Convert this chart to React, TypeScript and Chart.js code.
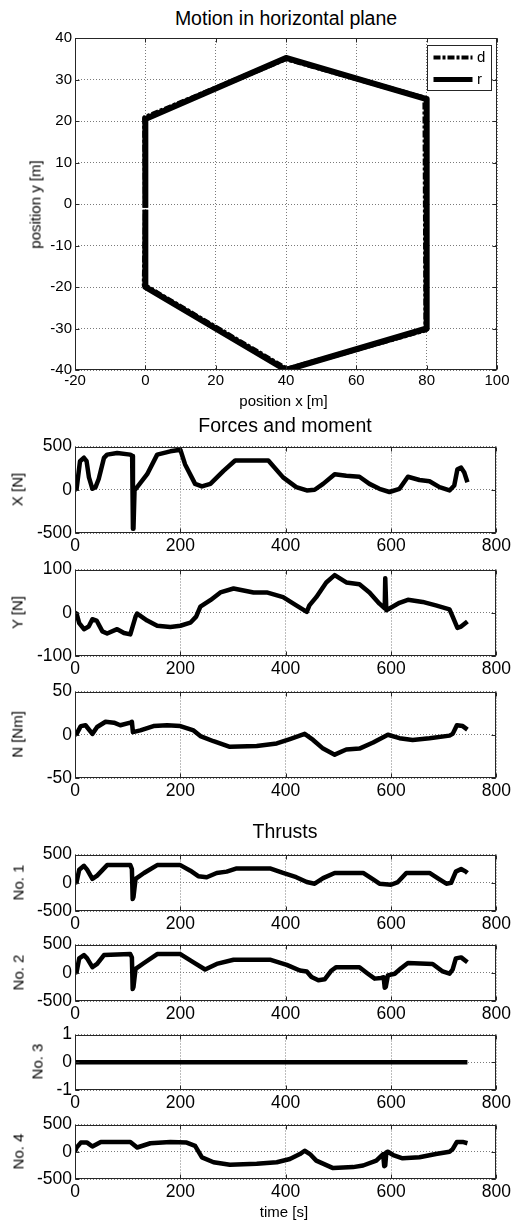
import React, { useEffect, useRef } from "react";
import { Chart, registerables } from "chart.js";
Chart.register(...registerables);

const FONT = "'Liberation Sans', Arial, Helvetica, sans-serif";

// ---------------- data ----------------
// Motion in horizontal plane (position x / y in m)
const hexDesiredX = [0, -0.2, 40, 79.5, 79.8, 40.3, -0.3, 0];
const hexDesiredY = [-0.9, 20.8, 35, 25.5, -30.3, -39.8, -19.6, -1.4];
const hexRealX = [0, 0, 40, 80, 80, 40, 0, 0];
const hexRealY = [-0.9, 20.5, 35.2, 25.3, -30, -40, -20, -1.4];

// Forces and moment (time in s)
const forceXTime = [0, 3, 9.5, 17, 22, 26.5, 33, 39, 45, 55, 61, 80, 105, 108.5, 110, 111, 113, 118, 137, 156, 181, 200, 209, 228, 241, 257, 282, 304, 367, 395, 420, 440, 455, 471, 493, 515, 540, 559, 578, 597, 616, 632, 654, 673, 692, 711, 720, 726, 733, 739, 745];
const forceXValues = [0, 10, 330, 370, 330, 143, 11, 30, 124, 368, 406, 425, 406, 390, -450, -450, -8, 30, 180, 406, 444, 462, 293, 68, 38, 68, 218, 338, 338, 143, 30, -8, 0, 68, 180, 162, 150, 68, 11, -26, 11, 150, 113, 98, 30, -8, 49, 237, 256, 199, 86];

const forceYTime = [0, 3, 8, 17, 26, 33, 41, 52, 61, 80, 93, 105, 115, 118, 137, 156, 181, 200, 219, 230, 238, 257, 276, 301, 339, 364, 395, 420, 440, 445, 458, 477, 493, 515, 540, 559, 578, 588, 589, 590, 591, 597, 616, 632, 660, 685, 711, 717, 726, 733, 745];
const forceYValues = [0, -2, -24, -38, -32, -15, -18, -43, -48, -38, -47, -50, -9, -2, -18, -30, -33, -30, -23, -9, 14, 29, 47, 56, 47, 47, 36, 17, 2, 17, 36, 70, 87, 70, 66, 47, 21, 10, 80, 80, 6, 10, 23, 30, 25, 17, 8, -9, -35, -32, -20];

const momentNTime = [0, 3, 11, 20, 33, 42, 58, 74, 86, 105, 108, 110, 124, 149, 175, 200, 225, 238, 263, 294, 345, 383, 408, 436, 452, 471, 493, 515, 540, 566, 594, 616, 641, 673, 711, 717, 725, 736, 745];
const momentNValues = [0, 1, 10, 11, 1, 9, 15, 14, 11, 14, 15, 3, 5, 10, 11, 10, 5, -1.5, -7.5, -14, -13, -10, -5, 1, -6, -16, -23, -17, -16, -9, 0, -4, -6, -4, -1, 1, 11, 10, 6];

// Thrusts
const thrust1Time = [0, 3, 8, 17, 23, 33, 42, 61, 105, 108, 109.5, 111, 115, 131, 156, 200, 219, 234, 250, 269, 288, 307, 370, 395, 420, 440, 455, 471, 493, 547, 566, 578, 600, 613, 629, 673, 692, 705, 714, 723, 733, 742, 745];
const thrust1Values = [0, 12, 231, 300, 231, 69, 127, 312, 312, 243, -289, -250, 69, 173, 312, 312, 214, 116, 98, 173, 197, 254, 254, 173, 98, 12, -17, 81, 173, 173, 58, -17, -35, 12, 173, 173, 58, -17, 0, 197, 243, 197, 173];

const thrust2Time = [0, 3, 8, 17, 23, 33, 42, 55, 105, 108, 109.5, 111, 115, 131, 156, 200, 225, 247, 269, 301, 370, 402, 427, 440, 449, 462, 474, 487, 496, 540, 556, 569, 581, 586, 588, 590, 594, 607, 619, 632, 679, 698, 711, 717, 723, 733, 745];
const thrust2Values = [0, 12, 254, 312, 254, 98, 156, 312, 330, 272, -289, -250, 69, 173, 330, 330, 185, 58, 156, 231, 231, 139, 40, 23, -75, -133, -116, 40, 98, 98, -17, -104, -92, -80, -266, -250, -46, -17, 81, 173, 156, 23, -17, 58, 254, 272, 185];

const thrust3Time = [0, 745];
const thrust3Values = [0, 0];

const thrust4Time = [0, 3, 11, 23, 33, 49, 105, 118, 143, 181, 212, 228, 241, 263, 294, 345, 383, 408, 427, 436, 446, 458, 490, 528, 547, 572, 585, 587, 589, 591, 594, 604, 622, 654, 685, 711, 717, 725, 736, 745];
const thrust4Values = [0, 78, 168, 168, 96, 180, 180, 78, 156, 180, 168, 108, -102, -192, -240, -222, -192, -132, -42, 18, -42, -162, -300, -282, -252, -162, -42, -264, -250, -10, 0, -60, -120, -102, -42, 0, 48, 180, 180, 156];

// ---------------- helpers ----------------
type Series = { label: string; xs: number[]; ys: number[]; dash?: number[]; width: number; order?: number };

const toPoints = (xs: number[], ys: number[]) => xs.map((x, i) => ({ x, y: ys[i] }));

const boxPlugin = {
  id: "matlabBox",
  afterDatasetsDraw(chart: any) {
    const { ctx, chartArea: a, scales } = chart;
    const l = Math.round(a.left) + 0.5;
    const r = Math.round(a.right) - 0.5;
    const t = Math.round(a.top) + 0.5;
    const b = Math.round(a.bottom) - 0.5;
    ctx.save();
    ctx.setLineDash([]);
    ctx.strokeStyle = "#262626";
    ctx.lineWidth = 1;
    ctx.strokeRect(l, t, r - l, b - t);
    const tl = 4;
    const seg = (x1: number, y1: number, x2: number, y2: number) => {
      ctx.beginPath();
      ctx.moveTo(x1, y1);
      ctx.lineTo(x2, y2);
      ctx.stroke();
    };
    scales.x.ticks.forEach((tk: any) => {
      const px = Math.round(scales.x.getPixelForValue(tk.value)) + 0.5;
      seg(px, b, px, b - tl);
      seg(px, t, px, t + tl);
    });
    scales.y.ticks.forEach((tk: any) => {
      const py = Math.round(scales.y.getPixelForValue(tk.value)) + 0.5;
      seg(l, py, l + tl, py);
      seg(r, py, r - tl, py);
    });
    ctx.restore();
  },
};

const legendPlugin = {
  id: "insetLegend",
  afterDraw(chart: any) {
    const { ctx, chartArea: a } = chart;
    const bx = Math.round(a.right) - 70 + 0.5;
    const by = Math.round(a.top) + 7 + 0.5;
    const bw = 64;
    const bh = 45;
    ctx.save();
    ctx.fillStyle = "#fff";
    ctx.fillRect(bx, by, bw, bh);
    ctx.strokeStyle = "#262626";
    ctx.lineWidth = 1;
    ctx.setLineDash([]);
    ctx.strokeRect(bx, by, bw, bh);
    chart.data.datasets.forEach((ds: any, i: number) => {
      const y = by + 12 + i * 22;
      ctx.beginPath();
      ctx.setLineDash(ds.borderDash || []);
      ctx.lineWidth = i === 0 ? 4 : 5;
      ctx.strokeStyle = "#000";
      ctx.moveTo(bx + 6, y);
      ctx.lineTo(bx + 45, y);
      ctx.stroke();
      ctx.setLineDash([]);
      ctx.fillStyle = "#000";
      ctx.font = `15px ${FONT}`;
      ctx.textBaseline = "middle";
      ctx.textAlign = "left";
      ctx.fillText(ds.label, bx + 49.5, y);
    });
    ctx.restore();
  },
};

type PanelProps = {
  top: number;
  bottom: number;
  xMin: number;
  xMax: number;
  xStep: number;
  yMin: number;
  yMax: number;
  yStep: number;
  series: Series[];
  tickSize: number;
  xPad: number;
  legend?: boolean;
};

const PAD_TOP = 12;
const XAXIS_H = 30;

function Panel(p: PanelProps) {
  const ref = useRef<HTMLCanvasElement>(null);
  useEffect(() => {
    const chart = new Chart(ref.current as HTMLCanvasElement, {
      type: "scatter",
      data: {
        datasets: p.series.map((s) => ({
          label: s.label,
          data: toPoints(s.xs, s.ys),
          showLine: true,
          borderColor: "#000",
          backgroundColor: "#000",
          borderWidth: s.width,
          borderDash: s.dash || [],
          borderJoinStyle: "round",
          pointRadius: 0,
          pointHoverRadius: 0,
          tension: 0,
          order: s.order ?? 0,
        })) as any,
      },
      options: {
        animation: false,
        responsive: false,
        events: [],
        layout: { padding: { top: PAD_TOP, right: 17, left: 0, bottom: 0 } },
        plugins: { legend: { display: false }, tooltip: { enabled: false }, title: { display: false } },
        scales: {
          x: {
            type: "linear",
            min: p.xMin,
            max: p.xMax,
            afterFit: (s: any) => {
              s.height = XAXIS_H;
            },
            ticks: {
              stepSize: p.xStep,
              font: { size: p.tickSize, family: FONT },
              color: "#000",
              padding: p.xPad,
              maxRotation: 0,
              minRotation: 0,
              autoSkip: false,
            },
            grid: { color: "#7a7a7a", lineWidth: 1, drawTicks: false },
            border: { display: false, dash: [1, 2] },
          },
          y: {
            type: "linear",
            min: p.yMin,
            max: p.yMax,
            afterFit: (s: any) => {
              s.width = 75;
            },
            ticks: {
              stepSize: p.yStep,
              font: { size: p.tickSize, family: FONT },
              color: "#000",
              padding: 3,
              autoSkip: false,
            },
            grid: { color: "#7a7a7a", lineWidth: 1, drawTicks: false },
            border: { display: false, dash: [1, 2] },
          },
        },
      } as any,
      plugins: p.legend ? [boxPlugin, legendPlugin] : [boxPlugin],
    });
    return () => chart.destroy();
  }, []);
  const h = p.bottom - p.top + PAD_TOP + XAXIS_H;
  return (
    <canvas
      ref={ref}
      width={514}
      height={h}
      style={{ position: "absolute", left: 0, top: p.top - PAD_TOP, width: 514, height: h }}
    />
  );
}

function HText({ text, cx, top, size }: { text: string; cx: number; top: number; size: number }) {
  return (
    <div
      style={{
        position: "absolute",
        left: cx - 200,
        width: 400,
        top,
        textAlign: "center",
        fontFamily: FONT,
        fontSize: size,
        lineHeight: 1,
        color: "#000",
        whiteSpace: "nowrap",
      }}
    >
      {text}
    </div>
  );
}

function VText({ text, cx, cy, size }: { text: string; cx: number; cy: number; size: number }) {
  return (
    <div
      style={{
        position: "absolute",
        left: cx - 100,
        width: 200,
        top: cy - size / 2,
        height: size,
        textAlign: "center",
        fontFamily: FONT,
        fontSize: size,
        lineHeight: 1,
        color: "#000",
        whiteSpace: "nowrap",
        transform: "rotate(-90deg)",
        transformOrigin: "50% 50%",
      }}
    >
      {text}
    </div>
  );
}

const line = (xs: number[], ys: number[]): Series[] => [{ label: "", xs, ys, width: 4.5 }];

export default function App() {
  const T = 17.5;
  const time = { xMin: 0, xMax: 800, xStep: 200, tickSize: T, xPad: 3 };
  return (
    <div
      style={{
        position: "absolute",
        left: 0,
        top: 0,
        width: 514,
        height: 1224,
        background: "#fff",
        overflow: "hidden",
      }}
    >
      <HText text="Motion in horizontal plane" cx={286} top={8.8} size={19.5} />
      <Panel
        top={38}
        bottom={370}
        xMin={-20}
        xMax={100}
        xStep={20}
        yMin={-40}
        yMax={40}
        yStep={10}
        tickSize={15}
        xPad={2}
        legend
        series={[
          { label: "d", xs: hexDesiredX, ys: hexDesiredY, width: 5, dash: [7, 2, 3, 2], order: 1 },
          { label: "r", xs: hexRealX, ys: hexRealY, width: 6, order: 0 },
        ]}
      />
      <HText text="position x [m]" cx={283.5} top={393.3} size={15} />
      <VText text="position y [m]" cx={35.4} cy={204} size={15} />

      <HText text="Forces and moment" cx={285} top={415.5} size={19.5} />
      <Panel top={445} bottom={533} {...time} yMin={-500} yMax={500} yStep={500} series={line(forceXTime, forceXValues)} />
      <VText text="X [N]" cx={17} cy={489} size={15} />
      <Panel top={568} bottom={656} {...time} yMin={-100} yMax={100} yStep={100} series={line(forceYTime, forceYValues)} />
      <VText text="Y [N]" cx={17} cy={612} size={15} />
      <Panel top={690} bottom={778} {...time} yMin={-50} yMax={50} yStep={50} series={line(momentNTime, momentNValues)} />
      <VText text="N [Nm]" cx={17} cy={734} size={15} />

      <HText text="Thrusts" cx={285} top={822.2} size={19.5} />
      <Panel top={853} bottom={911} {...time} yMin={-500} yMax={500} yStep={500} series={line(thrust1Time, thrust1Values)} />
      <VText text="No. 1" cx={17.7} cy={882} size={15} />
      <Panel top={943} bottom={1001} {...time} yMin={-500} yMax={500} yStep={500} series={line(thrust2Time, thrust2Values)} />
      <VText text="No. 2" cx={17.7} cy={972} size={15} />
      <Panel top={1033} bottom={1090} {...time} yMin={-1} yMax={1} yStep={1} series={line(thrust3Time, thrust3Values)} />
      <VText text="No. 3" cx={36.7} cy={1061.5} size={15} />
      <Panel top={1123} bottom={1179} {...time} yMin={-500} yMax={500} yStep={500} series={line(thrust4Time, thrust4Values)} />
      <VText text="No. 4" cx={17.7} cy={1151} size={15} />
      <HText text="time [s]" cx={284} top={1204.2} size={15} />
    </div>
  );
}
